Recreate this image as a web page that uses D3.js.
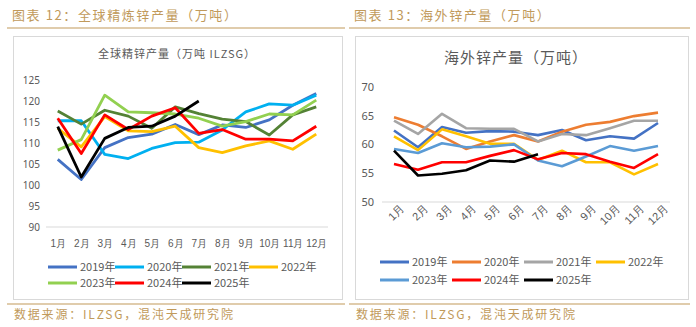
<!DOCTYPE html>
<html>
<head>
<meta charset="utf-8">
<script src="https://cdn.jsdelivr.net/npm/d3@7"></script>
<style>
  body { margin: 0; background: #fff; }
  svg { display: block; font-family: "Noto Sans CJK SC", "Noto Sans", sans-serif; }
</style>
</head>
<body>
<svg id="chart" width="696" height="327"></svg>
<script>
// Months and series
const months = ['1月', '2月', '3月', '4月', '5月', '6月', '7月', '8月', '9月', '10月', '11月', '12月'];
const years = ['2019年', '2020年', '2021年', '2022年', '2023年', '2024年', '2025年'];

// Global refined zinc output (ILZSG), 10k tonnes
const global2019 = [106.1, 101.3, 108.9, 111.3, 112.1, 114.4, 112.0, 114.3, 113.7, 115.5, 119.0, 121.8];
const global2020 = [115.3, 115.3, 107.3, 106.3, 108.7, 110.1, 110.2, 113.1, 117.4, 119.3, 119.0, 121.4];
const global2021 = [117.6, 114.5, 117.8, 116.4, 113.5, 118.6, 117.0, 115.7, 115.1, 111.9, 116.7, 118.6];
const global2022 = [113.5, 109.1, 116.3, 112.9, 112.7, 114.0, 108.9, 107.7, 109.3, 110.5, 108.5, 112.1];
const global2023 = [108.3, 110.8, 121.4, 117.4, 117.2, 116.9, 115.9, 114.0, 115.1, 116.9, 116.7, 120.2];
const global2024 = [115.9, 107.5, 116.7, 113.2, 116.4, 118.4, 112.3, 113.2, 110.9, 110.9, 110.5, 114.0];
const global2025 = [113.9, 101.9, 111.1, 113.7, 114.0, 116.4, 120.0];
const globalTicks = [90, 95, 100, 105, 110, 115, 120, 125];

// Overseas zinc output, 10k tonnes
const overseas2019 = [62.4, 59.5, 63.0, 62.0, 62.3, 62.2, 61.6, 62.5, 60.7, 61.4, 61.0, 63.7];
const overseas2020 = [64.7, 63.4, 61.4, 59.2, 60.5, 61.6, 60.5, 62.2, 63.4, 63.9, 64.9, 65.5];
const overseas2021 = [64.1, 61.8, 65.3, 62.8, 62.7, 62.7, 60.5, 61.8, 61.6, 62.8, 64.1, 64.1];
const overseas2022 = [61.4, 59.0, 62.6, 61.4, 60.1, 60.1, 57.3, 58.9, 56.9, 56.9, 54.8, 56.6];
const overseas2023 = [59.2, 58.5, 60.2, 59.5, 59.6, 60.0, 57.2, 56.2, 57.9, 59.7, 58.9, 59.7];
const overseas2024 = [56.6, 55.6, 56.9, 56.9, 58.0, 59.0, 57.4, 58.5, 58.3, 57.0, 55.9, 58.3];
const overseas2025 = [58.9, 54.6, 54.9, 55.5, 57.2, 57.0, 58.3];
const overseasTicks = [50, 55, 60, 65, 70];

const svg = d3.select('#chart');
const gold = '#c19a5b';

// page furniture: headers, frames, source lines
const panels = [
  { x0: 7, x1: 345, box: [13, 36, 329, 263], head: '图表 12：全球精炼锌产量（万吨）' },
  { x0: 349, x1: 690, box: [355, 36, 333, 263], head: '图表 13：海外锌产量（万吨）' }
];
panels.forEach(p => {
  svg.append('text').attr('x', p.x0 + 5).attr('y', 20)
    .attr('fill', gold).style('font-size', '13px').style('letter-spacing', '1.6px').text(p.head);
  svg.append('line').attr('x1', p.x0).attr('x2', p.x1).attr('y1', 28).attr('y2', 28)
    .attr('stroke', gold).attr('stroke-width', 1.2);
  svg.append('rect').attr('x', p.box[0] + 0.5).attr('y', p.box[1] + 0.5)
    .attr('width', p.box[2]).attr('height', p.box[3])
    .attr('fill', 'none').attr('stroke', '#d9d9d9');
  svg.append('line').attr('x1', p.x0).attr('x2', p.x1).attr('y1', 304).attr('y2', 304)
    .attr('stroke', gold).attr('stroke-width', 1.2);
  svg.append('text').attr('x', p.x0 + 7).attr('y', 319)
    .attr('fill', gold).style('font-size', '12px').style('letter-spacing', '1.8px')
    .text('数据来源：ILZSG，混沌天成研究院');
});

function drawChart(cfg) {
  const x = d3.scalePoint().domain(months).range([cfg.left, cfg.right]).padding(0.5);
  const y = d3.scaleLinear().domain(cfg.domain).range([cfg.bottom, cfg.top]);

  svg.append('text').attr('x', cfg.titleX).attr('y', cfg.titleY)
    .attr('text-anchor', 'middle').attr('fill', '#595959')
    .style('font-size', cfg.titleSize).style('letter-spacing', '1px').text(cfg.title);

  // y axis labels only
  const ya = svg.append('g').attr('transform', `translate(${cfg.left},0)`)
    .call(d3.axisLeft(y).tickValues(cfg.ticks).tickSize(0).tickPadding(cfg.yPad));
  ya.select('.domain').remove();
  ya.selectAll('text').attr('fill', '#595959').style('font-size', cfg.tickSize)
    .style('font-family', '"Noto Sans", sans-serif');

  // baseline
  svg.append('line').attr('x1', cfg.left).attr('x2', cfg.right)
    .attr('y1', y(cfg.domain[0])).attr('y2', y(cfg.domain[0]))
    .attr('stroke', '#d9d9d9');

  const xa = svg.append('g').attr('transform', `translate(0,${y(cfg.domain[0])})`)
    .call(d3.axisBottom(x).tickSize(0).tickPadding(cfg.xPad));
  xa.select('.domain').remove();
  xa.selectAll('text').attr('fill', '#595959').style('font-size', cfg.tickSize);
  if (cfg.rotate) {
    xa.selectAll('text').attr('text-anchor', 'end')
      .attr('dy', '0.3em').attr('transform', 'rotate(-45)').attr('dx', '0.2em');
  }

  const line = d3.line().x((d, i) => x(months[i])).y(d => y(d));
  cfg.series.forEach((s, i) => {
    svg.append('path').datum(s).attr('d', line)
      .attr('fill', 'none').attr('stroke', cfg.colors[i])
      .attr('stroke-width', cfg.lw).attr('stroke-linejoin', 'round');
  });

  // legend, two rows
  years.forEach((name, i) => {
    const col = i % 4, row = Math.floor(i / 4);
    const lx = cfg.legX + col * cfg.legStep, ly = cfg.legY[row];
    svg.append('line').attr('x1', lx).attr('x2', lx + 29).attr('y1', ly).attr('y2', ly)
      .attr('stroke', cfg.colors[i]).attr('stroke-width', 3);
    svg.append('text').attr('x', lx + 32).attr('y', ly).attr('dy', '0.35em')
      .attr('fill', '#595959').style('font-size', cfg.legSize).text(name);
  });
}

drawChart({
  title: '全球精锌产量（万吨 ILZSG）', titleX: 177, titleY: 58, titleSize: '11px',
  left: 46, right: 328, top: 80, bottom: 227, domain: [90, 125], ticks: globalTicks,
  yPad: 6, xPad: 13, tickSize: '10px', rotate: false, lw: 2.8,
  series: [global2019, global2020, global2021, global2022, global2023, global2024, global2025],
  colors: ['#4472c4', '#00b0f0', '#548235', '#ffc000', '#92d050', '#ff0000', '#000000'],
  legX: 48, legStep: 67, legY: [267, 283], legSize: '11px'
});

drawChart({
  title: '海外锌产量（万吨）', titleX: 516, titleY: 63, titleSize: '15px',
  left: 382, right: 670, top: 86.7, bottom: 202, domain: [50, 70], ticks: overseasTicks,
  yPad: 8, xPad: 9, tickSize: '11px', rotate: true, lw: 2.6,
  series: [overseas2019, overseas2020, overseas2021, overseas2022, overseas2023, overseas2024, overseas2025],
  colors: ['#4472c4', '#ed7d31', '#a5a5a5', '#ffc000', '#5b9bd5', '#ff0000', '#000000'],
  legX: 380, legStep: 72, legY: [262, 280], legSize: '11px'
});
</script>
</body>
</html>
